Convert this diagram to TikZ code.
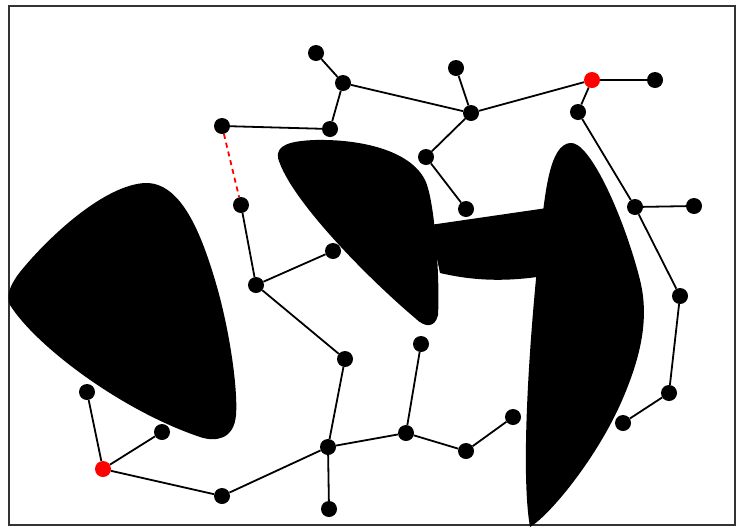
\documentclass[tikz,border=0pt]{standalone}
\begin{document}
\begin{tikzpicture}[x=1pt,y=-1pt,
  dot/.style={circle,fill=black,inner sep=0pt,minimum size=16pt},
  rdot/.style={circle,fill=red,inner sep=0pt,minimum size=16pt},
  edge/.style={line width=1.8pt,black},
  redge/.style={line width=1.8pt,red,dashed,dash pattern=on 5pt off 4pt},
  blob/.style={fill=black,draw=none}]
\useasboundingbox (0,0) rectangle (736,528);
\draw[line width=2pt,black!80] (9,6) rectangle (735,525);
% obstacles
\path[blob] (10,305) .. controls (6,295) and (10,285) .. (20,272)
  .. controls (50,235) and (105,185) .. (145,183)
  .. controls (180,182) and (200,230) .. (215,280)
  .. controls (230,330) and (238,390) .. (236,415)
  .. controls (234,440) and (215,442) .. (200,437)
  .. controls (120,410) and (35,345) .. (10,305) -- cycle;
\path[blob] (278,158) .. controls (276,145) and (290,141) .. (315,140)
  .. controls (360,139) and (410,150) .. (425,180)
  .. controls (435,200) and (440,280) .. (438,315)
  .. controls (435,328) and (425,328) .. (415,318)
  .. controls (370,280) and (290,200) .. (278,158) -- cycle;
\path[blob] (430,225) -- (547,208) -- (537,277)
  .. controls (500,282) and (470,280) .. (440,273) -- cycle;
\path[blob] (570,143) .. controls (590,140) and (625,220) .. (640,280)
  .. controls (650,320) and (640,360) .. (620,405)
  .. controls (595,460) and (550,515) .. (530,527)
  .. controls (520,470) and (530,330) .. (540,240)
  .. controls (545,190) and (550,145) .. (570,143) -- cycle;
% nodes
\node[dot] (n1) at (316,53) {};
\node[dot] (n2) at (343,83) {};
\node[dot] (n3) at (330,129) {};
\node[dot] (n4) at (222,126) {};
\node[dot] (n5) at (241,205) {};
\node[dot] (n6) at (256,285) {};
\node[dot] (n7) at (333,251) {};
\node[dot] (n8) at (345,359) {};
\node[dot] (n9) at (328,447) {};
\node[dot] (n10) at (329,509) {};
\node[dot] (n11) at (222,496) {};
\node[rdot] (r1) at (103,469) {};
\node[dot] (n12) at (87,392) {};
\node[dot] (n13) at (162,432) {};
\node[dot] (n14) at (406,433) {};
\node[dot] (n15) at (421,344) {};
\node[dot] (n16) at (466,451) {};
\node[dot] (n17) at (513,417) {};
\node[dot] (n18) at (456,68) {};
\node[dot] (n19) at (471,113) {};
\node[dot] (n20) at (426,157) {};
\node[dot] (n21) at (466,209) {};
\node[rdot] (r2) at (592,80) {};
\node[dot] (n22) at (655,80) {};
\node[dot] (n23) at (578,112) {};
\node[dot] (n24) at (635,207) {};
\node[dot] (n25) at (694,206) {};
\node[dot] (n26) at (680,296) {};
\node[dot] (n27) at (669,393) {};
\node[dot] (n28) at (623,423) {};
% edges
\draw[redge] (n4) -- (n5);
\draw[edge] (n1) -- (n2) (n2) -- (n3) (n3) -- (n4)
  (n5) -- (n6) (n6) -- (n7) (n6) -- (n8) (n8) -- (n9)
  (n9) -- (n10) (n9) -- (n11) (n11) -- (r1) (r1) -- (n12) (r1) -- (n13)
  (n9) -- (n14) (n14) -- (n15) (n14) -- (n16) (n16) -- (n17)
  (n2) -- (n19) (n18) -- (n19) (n19) -- (n20) (n20) -- (n21)
  (n19) -- (r2) (r2) -- (n22) (r2) -- (n23) (n23) -- (n24)
  (n24) -- (n25) (n24) -- (n26) (n26) -- (n27) (n27) -- (n28);
\end{tikzpicture}
\end{document}
